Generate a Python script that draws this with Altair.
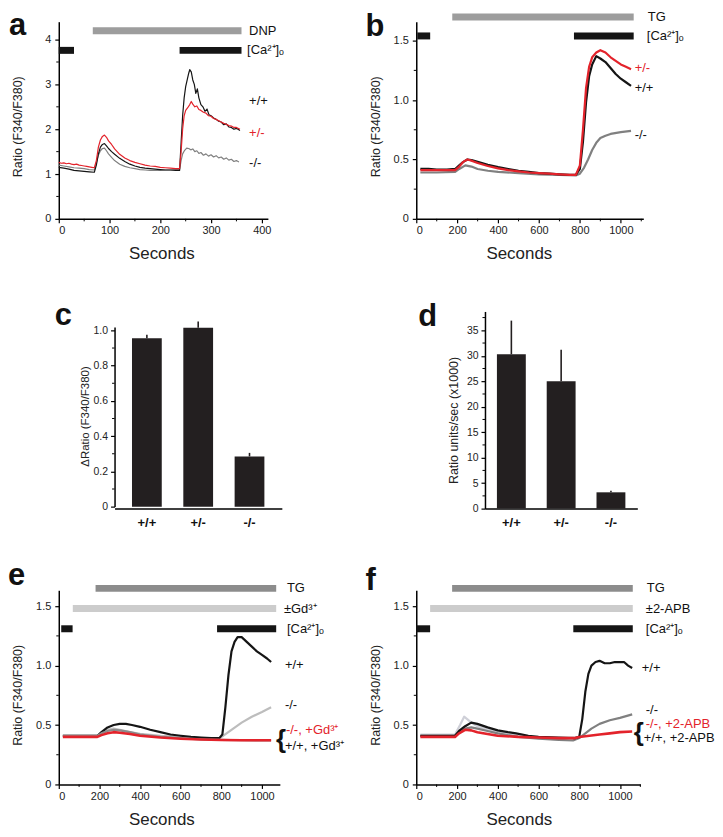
import altair as alt
import pandas as pd

FONT = "Liberation Sans"
BLACK = "#151515"
RED = "#e3232b"
GRAY = "#808080"
LGRAY = "#bdbdbd"
PALE = "#cfd0d8"

# ---------------- data: panel a (DNP) ----------------
a_wt = [(0,1.15),(10,1.13),(20,1.11),(30,1.08),(40,1.07),(50,1.06),(60,1.05),(70,1.04),(74,1.2),(78,1.45),
        (82,1.6),(86,1.66),(90,1.68),(94,1.63),(98,1.57),(104,1.5),(110,1.44),(120,1.35),(130,1.28),(140,1.22),
        (150,1.18),(160,1.15),(170,1.13),(180,1.12),(190,1.11),(200,1.1),(210,1.09),(220,1.09),(230,1.08),(238,1.08),
        (241,1.7),(244,2.3),(247,2.7),(250,2.95),(253,3.1),(256,3.25),(258,3.33),(261,3.28),(264,3.1),(267,3.0),
        (270,2.8),(273,2.9),(276,2.7),(280,2.55),(284,2.5),(288,2.4),(292,2.45),(296,2.32),(300,2.3),(305,2.25),
        (310,2.22),(315,2.18),(320,2.16),(325,2.1),(330,2.12),(335,2.05),(340,2.04),(345,2.0),(350,2.02),(357,1.97)]
a_het = [(0,1.26),(5,1.24),(10,1.25),(15,1.23),(20,1.24),(25,1.22),(30,1.21),(35,1.22),(40,1.2),(45,1.19),
         (50,1.18),(55,1.17),(60,1.16),(65,1.15),(70,1.14),(74,1.3),(78,1.6),(82,1.76),(86,1.84),(90,1.87),
         (94,1.82),(98,1.74),(104,1.66),(110,1.56),(120,1.44),(130,1.36),(140,1.3),(150,1.26),(160,1.23),(170,1.2),
         (180,1.18),(190,1.17),(200,1.15),(210,1.14),(220,1.13),(230,1.12),(238,1.12),(241,1.5),(244,2.0),(247,2.3),
         (250,2.42),(254,2.48),(258,2.55),(261,2.62),(264,2.56),(268,2.5),(272,2.52),(276,2.44),(280,2.42),(285,2.38),
         (290,2.36),(295,2.3),(300,2.29),(305,2.24),(310,2.22),(315,2.19),(320,2.16),(325,2.13),(330,2.11),(335,2.08),
         (340,2.07),(345,2.04),(350,2.04),(357,2.0)]
a_ko = [(0,1.2),(10,1.18),(20,1.16),(30,1.14),(40,1.13),(50,1.12),(60,1.1),(70,1.09),(74,1.25),(78,1.42),
        (82,1.52),(86,1.57),(90,1.58),(94,1.52),(98,1.45),(104,1.37),(110,1.3),(120,1.22),(130,1.17),(140,1.14),
        (150,1.12),(160,1.1),(170,1.09),(180,1.08),(190,1.08),(200,1.08),(210,1.09),(220,1.09),(230,1.1),(238,1.1),
        (241,1.3),(244,1.45),(248,1.53),(252,1.58),(256,1.57),(260,1.54),(264,1.56),(268,1.5),(272,1.52),(276,1.46),
        (280,1.48),(285,1.42),(290,1.45),(295,1.4),(300,1.43),(305,1.38),(310,1.41),(315,1.36),(320,1.38),(325,1.33),
        (330,1.36),(335,1.31),(340,1.33),(345,1.28),(350,1.3),(355,1.27)]
a_dnp = [(67, 360)]
a_ca = [(0, 30), (238, 360)]

# ---------------- data: panel b (TG) ----------------
b_wt = [(20,0.42),(60,0.42),(100,0.415),(150,0.415),(190,0.42),(210,0.45),(230,0.48),(250,0.5),(270,0.495),(300,0.48),
        (350,0.455),(400,0.435),(450,0.42),(500,0.405),(550,0.395),(600,0.385),(650,0.38),(700,0.375),(750,0.37),(780,0.37),
        (800,0.42),(815,0.65),(830,0.98),(845,1.2),(860,1.3),(880,1.37),(900,1.35),(925,1.32),(950,1.27),(975,1.22),
        (1000,1.18),(1025,1.15),(1050,1.12)]
b_het = [(20,0.41),(60,0.41),(100,0.41),(150,0.41),(190,0.41),(210,0.44),(230,0.48),(250,0.5),(270,0.49),(300,0.47),
         (350,0.445),(400,0.425),(450,0.41),(500,0.4),(550,0.39),(600,0.385),(650,0.38),(700,0.375),(750,0.37),(780,0.37),
         (800,0.45),(815,0.75),(830,1.1),(845,1.28),(860,1.36),(880,1.4),(900,1.42),(925,1.4),(950,1.36),(975,1.33),
         (1000,1.3),(1025,1.28),(1050,1.26)]
b_ko = [(20,0.39),(100,0.39),(190,0.395),(210,0.42),(240,0.45),(270,0.44),(300,0.42),(350,0.405),(400,0.395),(500,0.385),
        (600,0.375),(700,0.37),(780,0.365),(800,0.38),(820,0.43),(840,0.5),(860,0.58),(880,0.64),(900,0.68),(925,0.7),
        (950,0.715),(1000,0.73),(1050,0.74)]
b_tg = [(176, 1063)]
b_ca = [(5, 68), (771, 1063)]

# ---------------- data: panel c / d (bar charts) ----------------
genotypes = ["+/+", "+/-", "-/-"]
c_mean = [0.955, 1.015, 0.285]
c_sem = [0.02, 0.035, 0.02]
d_mean = [30.3, 25.0, 3.2]
d_sem = [6.6, 6.2, 0.3]

# ---------------- data: panel e (TG +/- Gd3+) ----------------
e_wt = [(20,0.41),(100,0.41),(190,0.41),(210,0.44),(240,0.48),(270,0.5),(300,0.51),(330,0.51),(360,0.5),(400,0.485),
        (450,0.46),(500,0.44),(550,0.42),(600,0.41),(650,0.4),(700,0.395),(750,0.39),(790,0.39),(805,0.42),(820,0.65),
        (835,0.92),(850,1.12),(865,1.2),(880,1.24),(900,1.24),(925,1.2),(950,1.16),(975,1.12),(1000,1.09),(1025,1.06),(1045,1.03)]
e_ko = [(20,0.41),(190,0.41),(210,0.43),(240,0.46),(270,0.47),(300,0.46),(350,0.44),(400,0.425),(500,0.41),(600,0.4),
        (700,0.39),(790,0.39),(810,0.41),(850,0.46),(900,0.52),(950,0.57),(1000,0.61),(1045,0.65)]
e_wt_gd = [(20,0.41),(190,0.41),(210,0.43),(240,0.45),(270,0.46),(300,0.455),(350,0.44),(400,0.42),(500,0.4),(600,0.39),
           (700,0.38),(800,0.375),(900,0.372),(1045,0.37)]
e_ko_gd = [(20,0.4),(190,0.4),(210,0.415),(240,0.43),(270,0.44),(300,0.435),(350,0.425),(400,0.41),(500,0.395),(600,0.385),
           (700,0.378),(800,0.374),(900,0.372),(1045,0.372)]
e_tg = [(181, 1070)]
e_gd = [(69, 1070)]
e_ca = [(12, 68), (779, 1070)]

# ---------------- data: panel f (TG +/- 2-APB) ----------------
f_wt = [(20,0.41),(190,0.41),(210,0.45),(240,0.49),(270,0.52),(300,0.51),(350,0.48),(400,0.455),(450,0.44),(490,0.43),
        (550,0.41),(600,0.4),(700,0.395),(780,0.39),(800,0.4),(815,0.55),(830,0.78),(845,0.93),(860,1.0),(880,1.03),
        (900,1.04),(925,1.02),(950,1.02),(975,1.03),(1000,1.03),(1020,1.03),(1040,1.0),(1060,0.98)]
f_wt_apb = [(20,0.42),(190,0.42),(215,0.5),(235,0.57),(250,0.55),(270,0.52),(300,0.49),(350,0.46),(400,0.44),(500,0.41),
            (600,0.39),(700,0.38),(800,0.4)]
f_ko = [(20,0.41),(190,0.41),(210,0.44),(240,0.47),(270,0.48),(300,0.47),(350,0.45),(400,0.43),(500,0.4),(600,0.385),
        (700,0.375),(770,0.37),(800,0.39),(830,0.43),(860,0.47),(900,0.51),(950,0.54),(1000,0.56),(1060,0.59)]
f_ko_apb = [(20,0.4),(190,0.4),(210,0.43),(240,0.46),(270,0.455),(300,0.44),(350,0.425),(400,0.41),(500,0.4),(600,0.395),
            (700,0.39),(780,0.39),(800,0.4),(850,0.41),(900,0.42),(950,0.43),(1000,0.44),(1060,0.445)]
f_tg = [(176, 1063)]
f_apb = [(68, 1063)]
f_ca = [(0, 68), (771, 1063)]

# ---------------- tick values ----------------
a_xticks = [0, 100, 200, 300, 400]
a_xminor = [50, 150, 250, 350]
a_yticks = [0, 1, 2, 3, 4]
a_yminor = [0.5, 1.5, 2.5, 3.5]
tg_xticks = [0, 200, 400, 600, 800, 1000]
tg_xminor = [100, 300, 500, 700, 900, 1100]
tg_yticks = [0, 0.5, 1.0, 1.5]
tg_yminor = [0.25, 0.75, 1.25]
c_yticks = [0, 0.2, 0.4, 0.6, 0.8, 1.0]
c_yminor = [0.1, 0.3, 0.5, 0.7, 0.9]
d_yticks = [0, 5, 10, 15, 20, 25, 30, 35]
d_yminor = [2.5, 7.5, 12.5, 17.5, 22.5, 27.5, 32.5, 37.5]

CA = "[Ca\u00b2\u207a]\u2092"


def fmt_expr(dec):
    if dec == 0:
        return "format(datum.value, 'd')"
    return "datum.value == 0 ? '0' : format(datum.value, '.%df')" % dec


def letter_layer(letter, lpos):
    return alt.Chart(pd.DataFrame({"k": [0]})).mark_text(
        align="left", baseline="alphabetic", fontSize=31, fontWeight="bold", color="#111"
    ).encode(x=alt.value(lpos[0]), y=alt.value(lpos[1]), text=alt.value(letter))


def trace_panel(series, xdom, ydom, w, h, xvals, xminor, yvals, yminor, ydec, bars, texts, letter, lpos):
    xs = alt.Scale(domain=xdom, nice=False, zero=False)
    ys = alt.Scale(domain=ydom, nice=False, zero=False)
    xax = alt.Axis(values=xvals, format="d", title="Seconds", titleFontSize=17, titleFontWeight="normal",
                   titleX=103, titleY=35, titleBaseline="middle", titleAlign="center",
                   labelFontSize=11, tickSize=4, labelPadding=2, grid=False)
    yax = alt.Axis(values=yvals, labelExpr=fmt_expr(ydec), title="Ratio (F340/F380)", titleFontSize=12.5,
                   titleFontWeight="normal", titleX=-41, titleY=105, titleBaseline="middle", titleAlign="center",
                   labelFontSize=11, tickSize=4, labelPadding=4, grid=False)
    layers = []
    for data, color, sw in series:
        df = pd.DataFrame(data, columns=["t", "v"])
        layers.append(
            alt.Chart(df).mark_line(color=color, strokeWidth=sw, strokeJoin="round").encode(
                x=alt.X("t:Q", scale=xs, axis=xax),
                y=alt.Y("v:Q", scale=ys, axis=yax),
            )
        )
    # minor ticks
    layers.append(
        alt.Chart(pd.DataFrame({"m": xminor})).mark_rule(color="black", strokeWidth=1).encode(
            x=alt.X("m:Q", scale=xs, axis=xax), y=alt.value(h), y2=alt.value(h + 2.5)
        )
    )
    layers.append(
        alt.Chart(pd.DataFrame({"m": yminor})).mark_rule(color="black", strokeWidth=1).encode(
            y=alt.Y("m:Q", scale=ys, axis=yax), x=alt.value(0), x2=alt.value(-2.5)
        )
    )
    for data, yv, color, sw in bars:
        df = pd.DataFrame(data, columns=["s", "e"])
        layers.append(
            alt.Chart(df).mark_rule(color=color, strokeWidth=sw).encode(
                x=alt.X("s:Q", scale=xs, axis=xax), x2="e:Q",
                y=alt.Y(datum=yv, type="quantitative", scale=ys, axis=yax)
            )
        )
    for txt, tx, ty, color, fs, fw in texts:
        layers.append(
            alt.Chart(pd.DataFrame({"k": [0]})).mark_text(
                align="left", baseline="middle", fontSize=fs, fontWeight=fw, color=color
            ).encode(
                x=alt.X(datum=tx, type="quantitative", scale=xs, axis=xax),
                y=alt.Y(datum=ty, type="quantitative", scale=ys, axis=yax),
                text=alt.value(txt),
            )
        )
    layers.append(letter_layer(letter, lpos))
    return alt.layer(*layers).properties(width=w, height=h)


def bar_panel(means, sems, ydom, w, h, xrange, yrange, yvals, yminor, ydec, ytitle, ttx, tty, tfs, pi, po, off,
              letter, lpos):
    df = pd.DataFrame({"g": genotypes, "v": means, "s": sems})
    xs = alt.Scale(domain=genotypes, paddingInner=pi, paddingOuter=po, range=xrange)
    ys = alt.Scale(domain=ydom, nice=False, zero=True, range=yrange)
    xax = alt.Axis(title=None, labelAngle=0, labelFontWeight="bold", labelFontSize=13, ticks=False,
                   labelPadding=8, labelColor="#111", grid=False)
    yax = alt.Axis(values=yvals, labelExpr=fmt_expr(ydec), title=ytitle, titleFontSize=tfs,
                   titleFontWeight="normal", titleX=ttx, titleY=tty, titleBaseline="middle", titleAlign="center",
                   labelFontSize=10.5, tickSize=4, labelPadding=3, grid=False, offset=off)
    base = alt.Chart(df)
    bars = base.mark_bar(color="#231f20").encode(
        x=alt.X("g:N", scale=xs, axis=xax, sort=genotypes), y=alt.Y("v:Q", scale=ys, axis=yax)
    )
    err = base.transform_calculate(top="datum.v + datum.s").mark_rule(color="#231f20", strokeWidth=1.6).encode(
        x=alt.X("g:N", sort=genotypes, scale=xs, axis=xax), y=alt.Y("v:Q", scale=ys, axis=yax), y2="top:Q"
    )
    minor = alt.Chart(pd.DataFrame({"m": yminor})).mark_rule(color="black", strokeWidth=1).encode(
        y=alt.Y("m:Q", scale=ys, axis=yax), x=alt.value(-off), x2=alt.value(-off - 2.5)
    )
    return alt.layer(bars, err, minor, letter_layer(letter, lpos)).properties(width=w, height=h)


TS = 13
pa = trace_panel(
    [(a_ko, GRAY, 1.2), (a_wt, BLACK, 1.2), (a_het, RED, 1.2)],
    [0, 412], [0, 4.4], 210, 198, a_xticks, a_xminor, a_yticks, a_yminor, 0,
    [(a_dnp, 4.2, "#9d9d9d", 7), (a_ca, 3.76, BLACK, 7)],
    [("DNP", 375, 4.2, "#111", TS, "normal"), (CA, 371, 3.76, "#111", TS, "normal"),
     ("+/+", 375, 2.64, "#111", TS, "normal"), ("+/-", 375, 1.91, RED, TS, "normal"),
     ("-/-", 375, 1.24, "#111", TS, "normal")],
    "a", (-50, 13),
)
pb = trace_panel(
    [(b_ko, GRAY, 2.2), (b_wt, BLACK, 2.2), (b_het, RED, 2.2)],
    [0, 1110], [0, 1.66], 228, 198, tg_xticks, tg_xminor, tg_yticks, tg_yminor, 1,
    [(b_tg, 1.70, "#9d9d9d", 7), (b_ca, 1.54, BLACK, 7)],
    [("TG", 1132, 1.70, "#111", TS, "normal"), (CA, 1127, 1.54, "#111", TS, "normal"),
     ("+/-", 1068, 1.27, RED, TS, "normal"), ("+/+", 1068, 1.10, "#111", TS, "normal"),
     ("-/-", 1068, 0.71, "#111", TS, "normal")],
    "b", (-51, 14),
)
pc = bar_panel(c_mean, c_sem, [0, 1.02], 224, 209, [56, 224], [207, 26.5],
               c_yticks, c_yminor, 1, "\u0394Ratio (F340/F380)", -29, 116, 11.5,
               0.42, 0.34, -56, "c", (-4, 25))
pd_ = bar_panel(d_mean, d_sem, [0, 38.7], 222, 209, [69, 222], [209, 11],
                d_yticks, d_yminor, 0, "Ratio units/sec (x1000)", -32, 120, 12.5,
                0.42, 0.24, -69, "d", (2, 26))
pe = trace_panel(
    [(e_ko, LGRAY, 2.2), (e_wt, BLACK, 2.2), (e_wt_gd, "#8a8a8a", 2.2), (e_ko_gd, RED, 2.6)],
    [0, 1088], [0, 1.634], 222, 195, tg_xticks, tg_xminor[:-1], tg_yticks, tg_yminor, 1,
    [(e_tg, 1.65, "#8c8c8c", 7), (e_gd, 1.48, "#cccccc", 7), (e_ca, 1.31, BLACK, 7)],
    [("TG", 1123, 1.65, "#111", TS, "normal"), ("\u00b1Gd\u00b3\u207a", 1108, 1.48, "#111", TS, "normal"),
     (CA, 1123, 1.31, "#111", TS, "normal"), ("+/+", 1113, 1.006, "#111", TS, "normal"),
     ("-/-", 1113, 0.67, "#111", TS, "normal"), ("{", 1069, 0.37, "#111", 26, "bold"),
     ("-/-,  +Gd\u00b3\u207a", 1118, 0.46, RED, TS, "normal"), ("+/+, +Gd\u00b3\u207a", 1113, 0.32, "#111", TS, "normal")],
    "e", (-51, -5),
)
pf = trace_panel(
    [(f_wt_apb, PALE, 2.2), (f_ko, GRAY, 2.2), (f_wt, BLACK, 2.2), (f_ko_apb, RED, 2.6)],
    [0, 1100], [0, 1.634], 225, 195, tg_xticks, tg_xminor, tg_yticks, tg_yminor, 1,
    [(f_tg, 1.65, "#8c8c8c", 7), (f_apb, 1.48, "#cccccc", 7), (f_ca, 1.31, BLACK, 7)],
    [("TG", 1132, 1.65, "#111", TS, "normal"), ("\u00b12-APB", 1127, 1.48, "#111", TS, "normal"),
     (CA, 1127, 1.31, "#111", TS, "normal"), ("+/+", 1107, 0.98, "#111", TS, "normal"),
     ("-/-", 1127, 0.63, "#111", TS, "normal"), ("{", 1068, 0.43, "#111", 26, "bold"),
     ("-/-,  +2-APB", 1127, 0.51, RED, TS, "normal"), ("+/+, +2-APB", 1117, 0.39, "#111", TS, "normal")],
    "f", (-51, 0),
)

chart = alt.concat(
    pa, pb, pc, pd_, pe, pf, columns=2, spacing={"row": 82, "column": 135}, bounds="flush", align="each"
).properties(
    padding={"left": 0, "top": 0, "right": 0, "bottom": 0}
).configure_view(stroke=None).configure_axis(
    labelFont=FONT, titleFont=FONT, domainColor="black", tickColor="black", labelColor="#222",
    titleColor="#222", domainWidth=1.5, tickWidth=1.2, grid=False
).configure_text(font=FONT)

chart.save("out.html", embed_options={"renderer": "svg", "actions": False})
